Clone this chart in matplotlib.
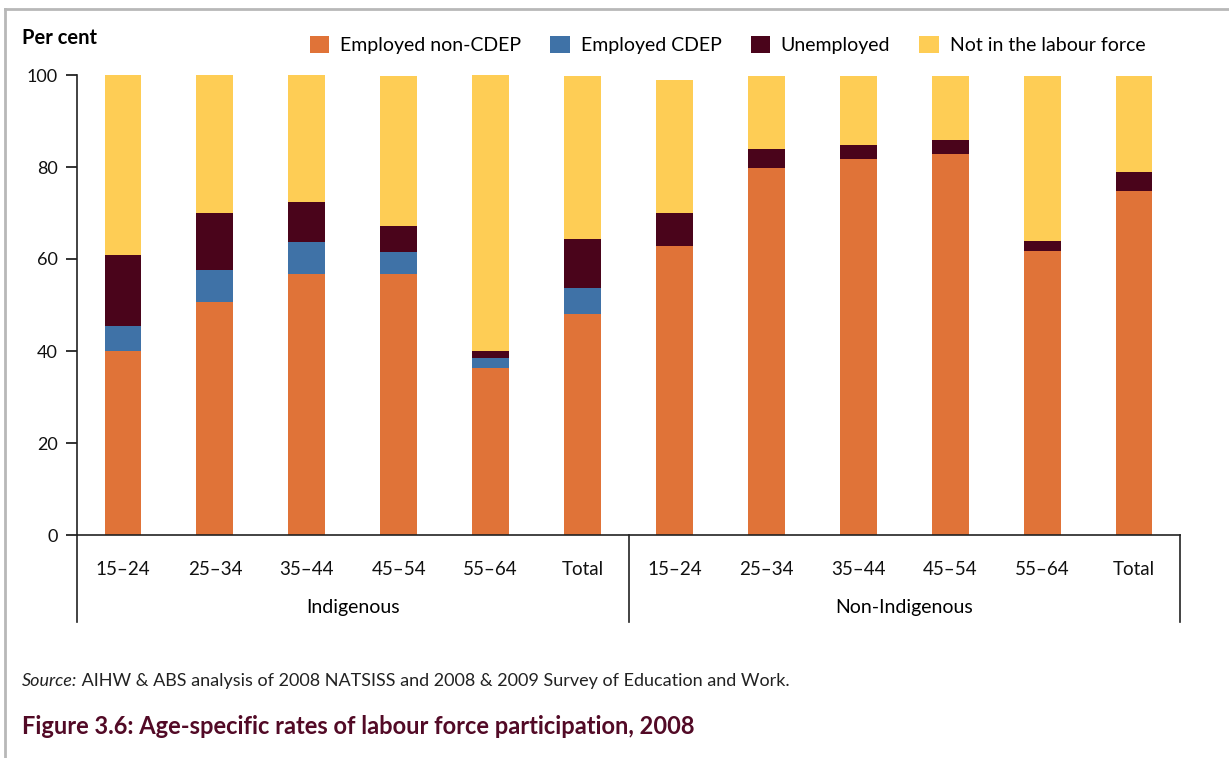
import matplotlib
matplotlib.use('Agg')
import matplotlib.pyplot as plt
from matplotlib.patches import Patch
from matplotlib.lines import Line2D
import matplotlib.transforms as mtransforms

plt.rcParams['font.family'] = ['Lato', 'DejaVu Sans']

groups = ['Indigenous', 'Non-Indigenous']
ages = ['15–24', '25–34', '35–44', '45–54', '55–64', 'Total']
labels = ages + ages

# per cent (Indigenous then Non-Indigenous)
emp_non_cdep = [40.0, 50.7, 56.8, 56.8, 36.3, 48.0, 62.8, 79.8, 81.7, 82.8, 61.7, 74.8]
emp_cdep     = [5.5, 7.0, 7.0, 4.8, 2.2, 5.7, 0, 0, 0, 0, 0, 0]
unemployed   = [15.4, 12.3, 8.7, 5.6, 1.5, 10.6, 7.2, 4.1, 3.1, 3.1, 2.2, 4.1]
not_in_lf    = [39.1, 30.0, 27.5, 32.6, 60.0, 35.5, 28.9, 15.9, 15.0, 13.9, 35.9, 20.9]

series = [emp_non_cdep, emp_cdep, unemployed, not_in_lf]
names = ['Employed non-CDEP', 'Employed CDEP', 'Unemployed', 'Not in the labour force']
colors = ['#e07338', '#3f72a7', '#4a041b', '#fecd55']

W, H = 1229, 758
fig = plt.figure(figsize=(W / 100, H / 100), dpi=100)
ax = fig.add_axes([77 / W, (H - 535) / H, (1180 - 77) / W, (535 - 75) / H])

x = list(range(len(labels)))
bottom = [0] * len(labels)
for vals, c in zip(series, colors):
    ax.bar(x, vals, width=0.4, bottom=bottom, color=c, linewidth=0)
    bottom = [b + v for b, v in zip(bottom, vals)]

ax.set_xlim(-0.5, 11.5)
ax.set_ylim(0, 100)
ax.set_yticks([0, 20, 40, 60, 80, 100])
ax.set_xticks(x)
ax.set_xticklabels(labels)
ax.tick_params(axis='x', length=0, pad=19, labelsize=13.5, colors='#111111')
ax.tick_params(axis='y', length=8, width=1.2, pad=6, labelsize=13, colors='#111111')
for s in ['top', 'right']:
    ax.spines[s].set_visible(False)
for s in ['left', 'bottom']:
    ax.spines[s].set_linewidth(1.2)
    ax.spines[s].set_color('#222222')

# group dividers below the axis
trans = mtransforms.blended_transform_factory(ax.transData, ax.transAxes)
drop = -(622 - 535) / (535 - 75)
for xd in [-0.5, 5.5, 11.5]:
    ax.plot([xd, xd], [0, drop], color='#222222', lw=1.2, transform=trans, clip_on=False)
ax.text(2.5, -(608 - 535) / 460, groups[0], transform=trans, ha='center', va='center', fontsize=14)
ax.text(8.5, -(608 - 535) / 460, groups[1], transform=trans, ha='center', va='center', fontsize=14)

fig.text(22 / W, 1 - 38 / H, 'Per cent', fontweight='bold', fontsize=14.5, va='center')

handles = [Patch(facecolor=c, edgecolor='none') for c in colors]
fig.legend(handles, names, loc='center left', bbox_to_anchor=(310 / W, 1 - 45 / H), ncol=4,
           frameon=False, fontsize=14, handlelength=1.0, handleheight=1.0,
           handletextpad=0.55, columnspacing=1.5, borderpad=0, borderaxespad=0)

# source line
t1 = fig.text(22 / W, 1 - 681 / H, 'Source:', fontstyle='italic', fontsize=13, color='#222222', va='center')
fig.canvas.draw()
bb = t1.get_window_extent()
fig.text(bb.x1 / W, 1 - 681 / H, ' AIHW & ABS analysis of 2008 NATSISS and 2008 & 2009 Survey of Education and Work.',
         fontsize=13, color='#222222', va='center')

fig.text(22 / W, 1 - 727 / H, 'Figure 3.6: Age-specific rates of labour force participation, 2008',
         fontweight='bold', fontsize=17, color='#520a26', va='center')

# page frame
fig.add_artist(Line2D([5 / W, 1], [1 - 9 / H, 1 - 9 / H], color='#b8b8b8', lw=2, transform=fig.transFigure))
fig.add_artist(Line2D([5 / W, 5 / W], [0, 1 - 9 / H], color='#b8b8b8', lw=2, transform=fig.transFigure))

fig.savefig('out.png', dpi=100)
